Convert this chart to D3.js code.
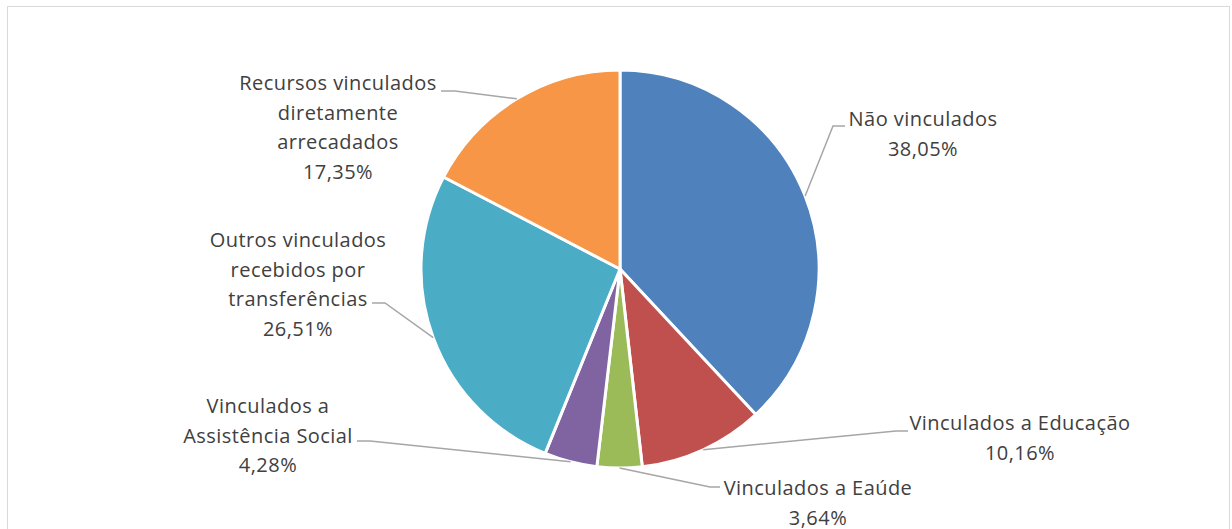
<!DOCTYPE html>
<html>
<head>
<meta charset="utf-8">
<script src="https://cdn.jsdelivr.net/npm/d3@7"></script>
<style>
  body { margin: 0; background: #fff; }
  text { font-family: "Open Sans", Lato, sans-serif; fill: #404040; letter-spacing: 0.45px; }
</style>
</head>
<body>
<svg width="1232" height="529"></svg>
<script>
// data
let categories = ["Não vinculados", "Vinculados a Educação", "Vinculados a Eaúde",
                  "Vinculados a Assistência Social", "Outros vinculados recebidos por transferências",
                  "Recursos vinculados diretamente arrecadados"];
let values = [38.05, 10.16, 3.64, 4.28, 26.51, 17.35];
let labelLines = [["Não vinculados"], ["Vinculados a Educação"], ["Vinculados a Eaúde"],
                  ["Vinculados a", "Assistência Social"], ["Outros vinculados", "recebidos por", "transferências"],
                  ["Recursos vinculados", "diretamente", "arrecadados"]];
let colors = ["#4f81bd", "#c0504d", "#9bbb59", "#8064a2", "#4bacc6", "#f79646"];

// label layout: text centre x, first line y, elbow point, end of horizontal tick
let labelPos = [
  {x: 923, y: 119, elbow: [833, 126], end: [845, 126]},
  {x: 1020, y: 423, elbow: [896, 431], end: [908, 431]},
  {x: 818, y: 488, elbow: [710, 487], end: [720, 487]},
  {x: 268, y: 406, elbow: [370, 441], end: [357, 441]},
  {x: 298, y: 240, elbow: [385, 303], end: [372, 303]},
  {x: 338, y: 83, elbow: [455, 91], end: [441, 91]}
];

var svg = d3.select("svg"),
    width = +svg.attr("width"),
    height = +svg.attr("height");

// chart border
svg.append("rect")
    .attr("x", 7.5).attr("y", 6.5)
    .attr("width", 1222).attr("height", 540)
    .attr("fill", "none")
    .attr("stroke", "#d9d9d9");

let cx = 620, cy = 269, radius = 199;

let pie = d3.pie().sort(null).value(d => d);
let arcs = pie(values);
let arc = d3.arc().innerRadius(0).outerRadius(radius);

let g = svg.append("g").attr("transform", "translate(" + cx + "," + cy + ")");

g.selectAll("path")
    .data(arcs)
    .enter().append("path")
    .attr("d", arc)
    .attr("fill", (d, i) => colors[i])
    .attr("stroke", "#fff")
    .attr("stroke-width", 3)
    .attr("stroke-linejoin", "round");

let fmt = v => v.toFixed(2).replace(".", ",") + "%";

// leader lines + labels
arcs.forEach(function(d, i){
    let a = (d.startAngle + d.endAngle) / 2;
    let sx = cx + Math.sin(a) * radius,
        sy = cy - Math.cos(a) * radius;
    let p = labelPos[i];
    svg.append("polyline")
        .attr("points", [[sx, sy], p.elbow, p.end].map(q => q.join(",")).join(" "))
        .attr("fill", "none")
        .attr("stroke", "#a6a6a6")
        .attr("stroke-width", 1.5);

    let lines = labelLines[i].concat([fmt(values[i])]);
    let t = svg.append("text")
        .attr("text-anchor", "middle")
        .attr("font-size", 20);
    lines.forEach(function(l, j){
        t.append("tspan")
            .attr("x", p.x)
            .attr("y", p.y + j * 29.5)
            .attr("dy", "0.35em")
            .text(l);
    });
});
</script>
</body>
</html>
